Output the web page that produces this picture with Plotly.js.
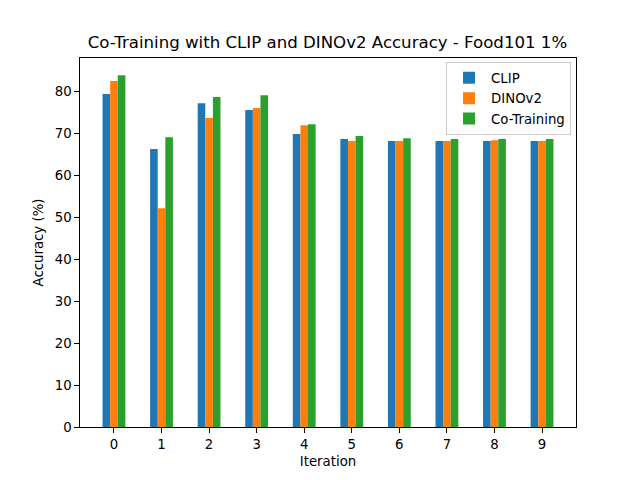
<!DOCTYPE html>
<html>
<head>
<meta charset="utf-8">
<script src="https://cdn.plot.ly/plotly-3.0.1.min.js"></script>
<style>html,body{margin:0;padding:0;background:#fff;}#chart{width:640px;height:480px;}</style>
</head>
<body>
<div id="chart"></div>
<script>
const iterations = [0, 1, 2, 3, 4, 5, 6, 7, 8, 9];
const clipAcc = [79.3, 66.2, 77.1, 75.5, 69.8, 68.6, 68.1, 68.1, 68.1, 68.1];
const dinoAcc = [82.4, 52.1, 73.6, 76.0, 71.9, 68.1, 68.1, 68.1, 68.3, 68.1];
const coAcc = [83.8, 69.0, 78.6, 79.0, 72.1, 69.3, 68.8, 68.6, 68.6, 68.6];
const seriesNames = ['CLIP', 'DINOv2', 'Co-Training'];
const seriesColors = ['#1f77b4', '#ff7f0e', '#2ca02c'];

const W = 0.16;
const allSeries = [clipAcc, dinoAcc, coAcc];
const traces = allSeries.map((vals, i) => ({
  type: 'bar',
  x: iterations,
  y: vals,
  name: seriesNames[i],
  width: W,
  offset: -1.5 * W + i * W,
  marker: {color: seriesColors[i], line: {width: 0}},
  hoverinfo: 'skip'
}));

const font = {family: 'DejaVu Sans, sans-serif', size: 13.3, color: '#000'};
const layout = {
  width: 640, height: 480,
  margin: {l: 80, r: 64, t: 58, b: 53, pad: 0},
  paper_bgcolor: '#fff', plot_bgcolor: '#fff',
  font: font,
  barmode: 'overlay',
  showlegend: true,
  title: {text: 'Co-Training with CLIP and DINOv2 Accuracy - Food101 1%', font: {family: 'DejaVu Sans, sans-serif', size: 16.6, color: '#000'}, x: 0.5117, xanchor: 'center', y: 0.912, yanchor: 'middle'},
  xaxis: {
    range: [-0.714, 9.714], tickvals: iterations, ticktext: iterations.map(String),
    showgrid: false, zeroline: false, showline: true, mirror: true, linecolor: '#000', linewidth: 1,
    ticks: 'outside', ticklen: 4.7, tickcolor: '#000', tickwidth: 1,
    title: {text: 'Iteration', font: font, standoff: 6}, automargin: false
  },
  yaxis: {
    range: [0, 87.9], tickvals: [0, 10, 20, 30, 40, 50, 60, 70, 80],
    showgrid: false, zeroline: false, showline: true, mirror: true, linecolor: '#000', linewidth: 1,
    ticks: 'outside', ticklen: 4.7, tickcolor: '#000', tickwidth: 1,
    title: {text: 'Accuracy (%)', font: font, standoff: 8}, automargin: false
  },
  legend: {
    x: 0.99, y: 0.99, xanchor: 'right', yanchor: 'top',
    bordercolor: '#cccccc', borderwidth: 1, bgcolor: 'rgba(255,255,255,0.8)',
    font: font, tracegroupgap: 0, itemsizing: 'constant', itemwidth: 34
  }
};

Plotly.newPlot('chart', traces, layout, {staticPlot: true, displayModeBar: false});
</script>
</body>
</html>
